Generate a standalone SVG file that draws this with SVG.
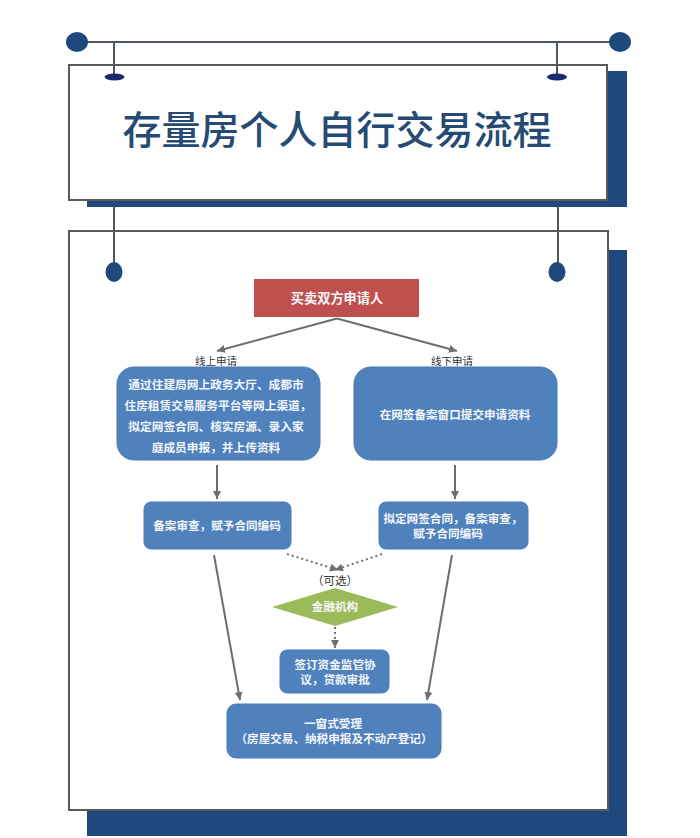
<svg xmlns="http://www.w3.org/2000/svg" width="700" height="838" viewBox="0 0 700 838">
<style>
text{font-family:"Noto Sans CJK SC","Liberation Sans",sans-serif;text-anchor:middle}
.w{fill:#f4f6fa;font-size:11.6px;font-weight:700}
.l{fill:#333;font-size:10.5px}
.b{fill:#4f81bd;stroke:#4a7ab5;stroke-width:1}
.fr{fill:#fff;stroke:#595959;stroke-width:2}
.sh{fill:#1f497d}
.ln{stroke:#4f5660;stroke-width:2;fill:none}
.c{stroke:#6e6e6e;stroke-width:2;fill:none;marker-end:url(#a)}
.d{stroke:#6e6e6e;stroke-width:2;fill:none;stroke-dasharray:2 3;marker-end:url(#a)}
.dot{fill:#1f497d}
</style>
<defs><marker id="a" markerUnits="userSpaceOnUse" markerWidth="10" markerHeight="10" refX="8" refY="4" orient="auto"><path d="M0 0L8 4L0 8Z" fill="#6e6e6e"/></marker></defs>
<rect width="700" height="838" fill="#fff"/>
<g id="title-panel">
<rect class="sh" x="87" y="71" width="540" height="136"/>
<rect x="69" y="65" width="538" height="135" class="fr"/>
<text x="337" y="144" font-size="39" font-weight="500" style="fill:#254a73">存量房个人自行交易流程</text>
</g>
<g id="body-panel">
<rect class="sh" x="87" y="250" width="540" height="586"/>
<rect x="69" y="231" width="539" height="579" class="fr"/>
</g>
<g id="frame">
<path class="ln" d="M77 42H620M114 42V77M557 42V77M114 207V264M558 207V264"/>
<ellipse class="dot" cx="77" cy="42" rx="11" ry="10"/>
<ellipse class="dot" cx="620" cy="42" rx="11" ry="10"/>
<ellipse cx="114.500" cy="77" rx="10" ry="3.500" fill="#1a2a6c"/>
<ellipse cx="557" cy="77" rx="10" ry="3.500" fill="#1a2a6c"/>
<ellipse class="dot" cx="114" cy="272" rx="8.500" ry="10"/>
<ellipse class="dot" cx="557" cy="272" rx="8.500" ry="10"/>
</g>
<g id="connectors">
<path class="c" d="M337 318.500L217 351"/>
<path class="c" d="M337 318.500L457 351"/>
<path class="c" d="M217 465V499"/>
<path class="c" d="M455 465V499"/>
<path class="c" d="M214 555L240 700"/>
<path class="c" d="M452 555L427 700"/>
<path class="d" d="M287 554L338 570"/>
<path class="d" d="M382 554L335 570"/>
<path class="d" d="M335 627V648"/>
</g>
<g id="applicant">
<rect x="254" y="279" width="165" height="38" fill="#c0504d"/>
<text class="w" x="337" y="303" style="font-size:13.200px">买卖双方申请人</text>
</g>
<g id="label-online"><text class="l" x="216" y="365">线上申请</text></g>
<g id="label-offline"><text class="l" x="452" y="365">线下申请</text></g>
<g id="online">
<rect class="b" x="117" y="367" width="203" height="93" rx="17"/>
<text class="w" x="216" y="389" style="font-size:11.700px">通过住建局网上政务大厅、成都市</text>
<text class="w" x="218" y="410" style="font-size:11.700px">住房租赁交易服务平台等网上渠道，</text>
<text class="w" x="216" y="431" style="font-size:11.700px">拟定网签合同、核实房源、录入家</text>
<text class="w" x="216" y="452" style="font-size:11.700px">庭成员申报，并上传资料</text>
</g>
<g id="offline">
<rect class="b" x="354" y="367" width="203" height="93" rx="17"/>
<text class="w" x="455" y="419">在网签备案窗口提交申请资料</text>
</g>
<g id="review-online">
<rect class="b" x="144" y="502" width="147" height="47" rx="7"/>
<text class="w" x="217" y="530">备案审查，赋予合同编码</text>
</g>
<g id="review-offline">
<rect class="b" x="379" y="502" width="149" height="47" rx="7"/>
<text class="w"><tspan x="453" y="522.500">拟定网签合同，备案审查，</tspan><tspan x="448" y="537.500">赋予合同编码</tspan></text>
</g>
<g id="optional"><text class="l" x="335" y="585" style="font-size:11.500px">（可选）</text></g>
<g id="bank">
<path d="M272 607L335 588L398 607L335 626Z" fill="#9bbb59"/>
<text class="w" x="335" y="611">金融机构</text>
</g>
<g id="agreement">
<rect class="b" x="280" y="650" width="109" height="43" rx="7"/>
<text class="w"><tspan x="335" y="669">签订资金监管协</tspan><tspan x="335" y="684">议，贷款审批</tspan></text>
</g>
<g id="one-stop">
<rect class="b" x="227" y="704" width="214" height="54" rx="9"/>
<text class="w"><tspan x="333" y="727.500">一窗式受理</tspan><tspan x="334" y="742.500">（房屋交易、纳税申报及不动产登记）</tspan></text>
</g>
</svg>
